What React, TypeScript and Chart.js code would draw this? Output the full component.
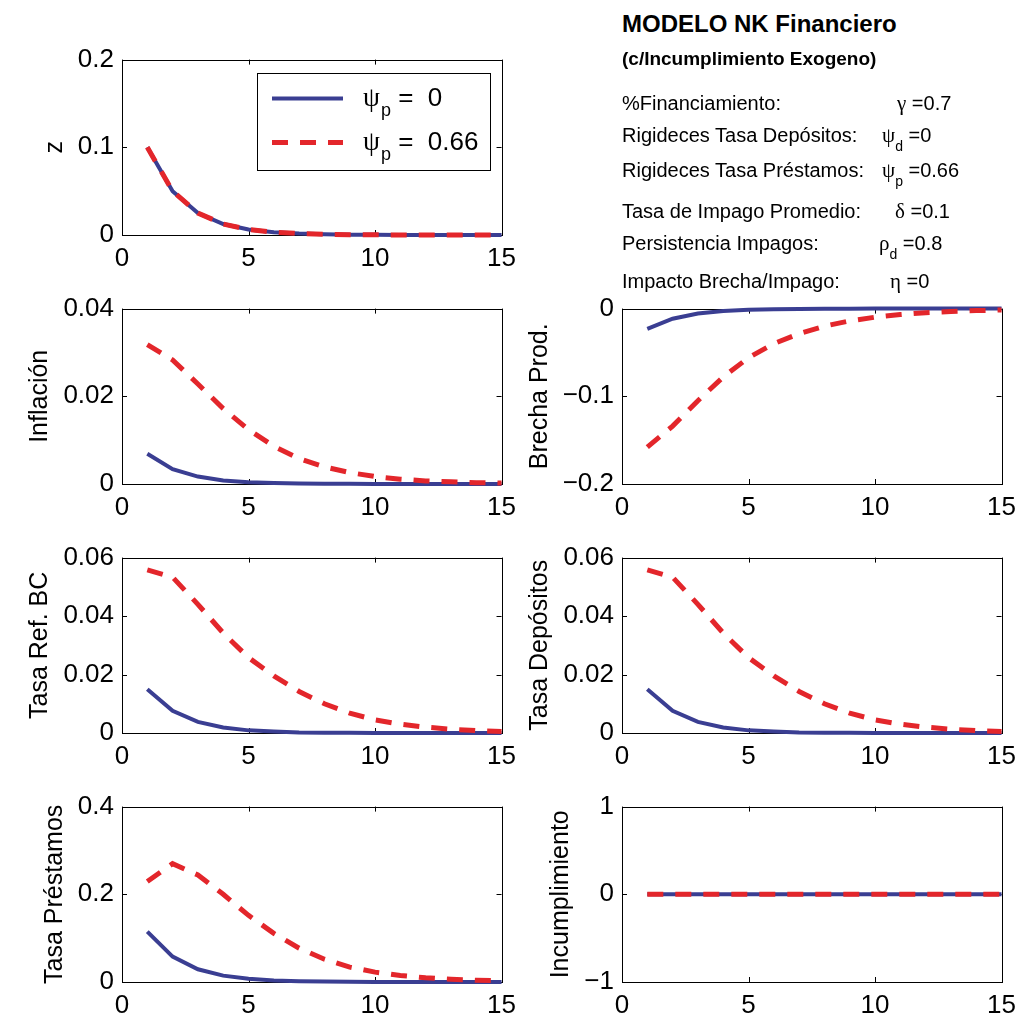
import React, { useEffect, useRef } from "react";
import { Chart, registerables } from "chart.js";

Chart.register(...registerables);

// ---------------- DATA ----------------
const periods = [1, 2, 3, 4, 5, 6, 7, 8, 9, 10, 11, 12, 13, 14, 15];
const xTickValues = [0, 5, 10, 15];

const seriesSymbols = ["ψ", "ψ"];
const seriesSubs = ["p", "p"];
const seriesValues = ["0", "0.66"];

// z shock
const zBase = [0.1, 0.05, 0.025, 0.0125, 0.0063, 0.0031, 0.0016, 0.0008, 0.0004, 0.0002, 0.0001, 0.00005, 0.00002, 0.00001, 0.000005];
const zRigid = [0.1, 0.05, 0.025, 0.0125, 0.0063, 0.0031, 0.0016, 0.0008, 0.0004, 0.0002, 0.0001, 0.00005, 0.00002, 0.00001, 0.000005];
const zTicks = [0, 0.1, 0.2];
const zTickLabels = ["0", "0.1", "0.2"];

// Inflación
const inflBase = [0.0069, 0.0034, 0.0017, 0.0008, 0.0004, 0.0002, 0.0001, 0.00005, 0.00003, 0.00001, 0, 0, 0, 0, 0];
const inflRigid = [0.0318, 0.0283, 0.0228, 0.0172, 0.0124, 0.0086, 0.0058, 0.0039, 0.0026, 0.0017, 0.0011, 0.0007, 0.0005, 0.0003, 0.0002];
const inflTicks = [0, 0.02, 0.04];
const inflTickLabels = ["0", "0.02", "0.04"];

// Brecha Prod.
const gapBase = [-0.023, -0.0115, -0.0057, -0.0028, -0.0014, -0.0007, -0.0004, -0.0002, -0.0001, 0, 0, 0, 0, 0, 0];
const gapRigid = [-0.158, -0.134, -0.105, -0.078, -0.056, -0.040, -0.0285, -0.020, -0.014, -0.0098, -0.0068, -0.0047, -0.0033, -0.0023, -0.0016];
const gapTicks = [-0.2, -0.1, 0];
const gapTickLabels = ["\u22120.2", "\u22120.1", "0"];

// Tasa Ref. BC
const refBase = [0.015, 0.0076, 0.0038, 0.0019, 0.0009, 0.0005, 0.0002, 0.0001, 0.00006, 0.00003, 0, 0, 0, 0, 0];
const refRigid = [0.0558, 0.0533, 0.044, 0.0342, 0.0258, 0.0195, 0.0142, 0.01, 0.0068, 0.0045, 0.003, 0.002, 0.0013, 0.0008, 0.0005];
const refTicks = [0, 0.02, 0.04, 0.06];
const refTickLabels = ["0", "0.02", "0.04", "0.06"];

// Tasa Depósitos
const depBase = [0.015, 0.0076, 0.0038, 0.0019, 0.0009, 0.0005, 0.0002, 0.0001, 0.00006, 0.00003, 0, 0, 0, 0, 0];
const depRigid = [0.0558, 0.0533, 0.044, 0.0342, 0.0258, 0.0195, 0.0142, 0.01, 0.0068, 0.0045, 0.003, 0.002, 0.0013, 0.0008, 0.0005];
const depTicks = [0, 0.02, 0.04, 0.06];
const depTickLabels = ["0", "0.02", "0.04", "0.06"];

// Tasa Préstamos
const loanBase = [0.115, 0.058, 0.029, 0.0145, 0.0072, 0.0036, 0.0018, 0.0009, 0.0005, 0.0002, 0.0001, 0, 0, 0, 0];
const loanRigid = [0.229, 0.27, 0.244, 0.2, 0.152, 0.111, 0.077, 0.052, 0.034, 0.0225, 0.0148, 0.0097, 0.0063, 0.0041, 0.0027];
const loanTicks = [0, 0.2, 0.4];
const loanTickLabels = ["0", "0.2", "0.4"];

// Incumplimiento
const defBase = [0, 0, 0, 0, 0, 0, 0, 0, 0, 0, 0, 0, 0, 0, 0];
const defRigid = [0, 0, 0, 0, 0, 0, 0, 0, 0, 0, 0, 0, 0, 0, 0];
const defTicks = [-1, 0, 1];
const defTickLabels = ["\u22121", "0", "1"];

// Info text
const infoTitle = "MODELO NK Financiero";
const infoSubtitle = "(c/Incumplimiento Exogeno)";
const infoLabels = [
  "%Financiamiento:",
  "Rigideces Tasa Depósitos:",
  "Rigideces Tasa Préstamos:",
  "Tasa de Impago Promedio:",
  "Persistencia Impagos:",
  "Impacto Brecha/Impago:",
];
const infoSymbols = ["γ", "ψ", "ψ", "δ", "ρ", "η"];
const infoSubs = ["", "d", "p", "", "d", ""];
const infoValues = ["0.7", "0", "0.66", "0.1", "0.8", "0"];

// ---------------- STYLE / LAYOUT ----------------
const BLUE = "#3a3e92";
const RED = "#e3262b";
const SANS = '"Liberation Sans", Arial, Helvetica, sans-serif';
const SERIF = '"Liberation Serif", "Times New Roman", serif';
const TICK_FONT = 26;
const TITLE_FONT = 25;

const PLOT_W = 380;
const PLOT_H = 179;
const PAD_L = 120;
const PAD_T = 20;
const PAD_R = 22;
const PAD_B = 50;

const infoBaselines = [110, 142, 177, 218, 250, 288];
const infoSymX = [897, 882, 882, 895, 879, 890];

type PanelDef = {
  title: string;
  base: number[];
  rigid: number[];
  ticks: number[];
  labels: string[];
  plotLeft: number;
  plotTop: number;
  legend?: boolean;
};

const panels: PanelDef[] = [
  { title: "z", base: zBase, rigid: zRigid, ticks: zTicks, labels: zTickLabels, plotLeft: 122, plotTop: 56, legend: true },
  { title: "Inflación", base: inflBase, rigid: inflRigid, ticks: inflTicks, labels: inflTickLabels, plotLeft: 122, plotTop: 305 },
  { title: "Brecha Prod.", base: gapBase, rigid: gapRigid, ticks: gapTicks, labels: gapTickLabels, plotLeft: 622, plotTop: 305 },
  { title: "Tasa Ref. BC", base: refBase, rigid: refRigid, ticks: refTicks, labels: refTickLabels, plotLeft: 122, plotTop: 554 },
  { title: "Tasa Depósitos", base: depBase, rigid: depRigid, ticks: depTicks, labels: depTickLabels, plotLeft: 622, plotTop: 554 },
  { title: "Tasa Préstamos", base: loanBase, rigid: loanRigid, ticks: loanTicks, labels: loanTickLabels, plotLeft: 122, plotTop: 803 },
  { title: "Incumplimiento", base: defBase, rigid: defRigid, ticks: defTicks, labels: defTickLabels, plotLeft: 622, plotTop: 803 },
];

function Panel({ def }: { def: PanelDef }) {
  const ref = useRef<HTMLCanvasElement | null>(null);

  useEffect(() => {
    if (!ref.current) return;

    const framePlugin = {
      id: "matlabFrame",
      beforeDatasetsDraw(chart: any) {
        const { ctx, chartArea: a, scales } = chart;
        const xs = scales.x;
        const ys = scales.y;
        ctx.save();
        ctx.strokeStyle = "#000";
        ctx.lineWidth = 1;
        ctx.strokeRect(Math.round(a.left) + 0.5, Math.round(a.top) + 0.5, Math.round(a.right - a.left), Math.round(a.bottom - a.top));
        ctx.beginPath();
        xs.ticks.forEach((t: any) => {
          const px = Math.round(xs.getPixelForValue(t.value)) + 0.5;
          ctx.moveTo(px, a.bottom);
          ctx.lineTo(px, a.bottom - 5);
          ctx.moveTo(px, a.top);
          ctx.lineTo(px, a.top + 5);
        });
        ys.ticks.forEach((t: any) => {
          const py = Math.round(ys.getPixelForValue(t.value)) + 0.5;
          ctx.moveTo(a.left, py);
          ctx.lineTo(a.left + 5, py);
          ctx.moveTo(a.right, py);
          ctx.lineTo(a.right - 5, py);
        });
        ctx.stroke();

        // y-axis title
        ctx.font = `${TICK_FONT}px ${SANS}`;
        let maxW = 0;
        def.labels.forEach((l) => {
          maxW = Math.max(maxW, ctx.measureText(l).width);
        });
        const tx = a.left - 8 - maxW - 16;
        const ty = (a.top + a.bottom) / 2;
        ctx.translate(tx, ty);
        ctx.rotate(-Math.PI / 2);
        ctx.font = `${TITLE_FONT}px ${SANS}`;
        ctx.fillStyle = "#000";
        ctx.textAlign = "center";
        ctx.textBaseline = "alphabetic";
        ctx.fillText(def.title, 0, 0);
        ctx.restore();
      },
    };

    const legendPlugin = {
      id: "matlabLegend",
      afterDraw(chart: any) {
        if (!def.legend) return;
        const { ctx, chartArea: a } = chart;
        ctx.save();
        const bx = Math.round(a.left + 135) + 0.5;
        const by = Math.round(a.top + 13) + 0.5;
        ctx.fillStyle = "#fff";
        ctx.fillRect(bx, by, 233, 97);
        ctx.strokeStyle = "#000";
        ctx.lineWidth = 1;
        ctx.strokeRect(bx, by, 233, 97);
        const rows = [
          { y: a.top + 39, color: BLUE, width: 4, dash: [] as number[] },
          { y: a.top + 83, color: RED, width: 5, dash: [16, 12] },
        ];
        rows.forEach((r, i) => {
          ctx.beginPath();
          ctx.strokeStyle = r.color;
          ctx.lineWidth = r.width;
          ctx.setLineDash(r.dash);
          ctx.moveTo(a.left + 150, r.y);
          ctx.lineTo(a.left + 221, r.y);
          ctx.stroke();
          ctx.setLineDash([]);
          const baseY = r.y + 7;
          let x = a.left + 241;
          ctx.fillStyle = "#000";
          ctx.textBaseline = "alphabetic";
          ctx.textAlign = "left";
          ctx.font = `27px ${SERIF}`;
          ctx.fillText(seriesSymbols[i], x, baseY);
          x += ctx.measureText(seriesSymbols[i]).width + 1;
          ctx.font = `18px ${SANS}`;
          ctx.fillText(seriesSubs[i], x, baseY + 10);
          x += ctx.measureText(seriesSubs[i]).width;
          ctx.font = `${TICK_FONT}px ${SANS}`;
          ctx.fillText(" =  " + seriesValues[i], x, baseY);
        });
        ctx.restore();
      },
    };

    const chart = new Chart(ref.current, {
      type: "line",
      data: {
        labels: periods,
        datasets: [
          {
            label: "rigid",
            data: periods.map((p, i) => ({ x: p, y: def.rigid[i] })),
            borderColor: RED,
            borderWidth: 5,
            borderDash: [16, 12],
            borderCapStyle: "butt",
            pointRadius: 0,
            fill: false,
            tension: 0,
            clip: false,
          },
          {
            label: "base",
            data: periods.map((p, i) => ({ x: p, y: def.base[i] })),
            borderColor: BLUE,
            borderWidth: 4,
            pointRadius: 0,
            fill: false,
            tension: 0,
            clip: false,
          },
        ],
      } as any,
      options: {
        animation: false,
        responsive: false,
        devicePixelRatio: 1,
        layout: { padding: { left: 0, top: PAD_T, right: PAD_R, bottom: 0 } },
        plugins: { legend: { display: false }, tooltip: { enabled: false }, title: { display: false } },
        scales: {
          x: {
            type: "linear",
            min: 0,
            max: 15,
            afterBuildTicks: (s: any) => {
              s.ticks = xTickValues.map((v) => ({ value: v }));
            },
            afterFit: (s: any) => {
              s.height = PAD_B;
            },
            grid: { display: false, drawTicks: false },
            border: { display: false },
            ticks: {
              color: "#000",
              font: { size: TICK_FONT, family: SANS },
              padding: 8,
              maxRotation: 0,
              autoSkip: false,
              callback: (v: any) => String(v),
            },
          },
          y: {
            type: "linear",
            min: def.ticks[0],
            max: def.ticks[def.ticks.length - 1],
            afterBuildTicks: (s: any) => {
              s.ticks = def.ticks.map((v) => ({ value: v }));
            },
            afterFit: (s: any) => {
              s.width = PAD_L;
            },
            grid: { display: false, drawTicks: false },
            border: { display: false },
            ticks: {
              color: "#000",
              font: { size: TICK_FONT, family: SANS },
              padding: 8,
              autoSkip: false,
              callback: (_v: any, i: number) => def.labels[i],
            },
          },
        },
      } as any,
      plugins: [framePlugin, legendPlugin],
    });
    return () => chart.destroy();
  }, [def]);

  const w = PLOT_W + PAD_L + PAD_R;
  const h = PLOT_H + PAD_T + PAD_B;
  return (
    <canvas
      ref={ref}
      width={w}
      height={h}
      style={{ position: "absolute", left: def.plotLeft - PAD_L, top: def.plotTop - PAD_T, width: w, height: h }}
    />
  );
}

function InfoPanel() {
  const F = 20;
  const lineTop = (baseline: number, size: number) => baseline - 0.8465 * size;
  return (
    <>
      <div style={{ position: "absolute", left: 622, top: lineTop(32, 24), font: `bold 24px ${SANS}`, lineHeight: "24px", whiteSpace: "pre", color: "#000" }}>
        {infoTitle}
      </div>
      <div style={{ position: "absolute", left: 622, top: lineTop(65, 19), font: `bold 19px ${SANS}`, lineHeight: "19px", whiteSpace: "pre", color: "#000" }}>
        {infoSubtitle}
      </div>
      {infoLabels.map((lab, i) => (
        <React.Fragment key={i}>
          <div style={{ position: "absolute", left: 622, top: lineTop(infoBaselines[i], F), font: `${F}px ${SANS}`, lineHeight: `${F}px`, whiteSpace: "pre", color: "#000" }}>
            {lab}
          </div>
          <div style={{ position: "absolute", left: infoSymX[i], top: lineTop(infoBaselines[i], F), font: `${F}px ${SANS}`, lineHeight: `${F}px`, whiteSpace: "pre", color: "#000" }}>
            <span style={{ fontFamily: SERIF, fontSize: 21 }}>{infoSymbols[i]}</span>
            {infoSubs[i] ? <span style={{ fontSize: 14, position: "relative", top: 9 }}>{infoSubs[i]}</span> : null}
            <span>{" =" + infoValues[i]}</span>
          </div>
        </React.Fragment>
      ))}
    </>
  );
}

export default function App() {
  return (
    <div style={{ position: "absolute", left: 0, top: 0, width: 1030, height: 1021, background: "#fff", overflow: "hidden" }}>
      {panels.map((p, i) => (
        <Panel key={i} def={p} />
      ))}
      <InfoPanel />
    </div>
  );
}
